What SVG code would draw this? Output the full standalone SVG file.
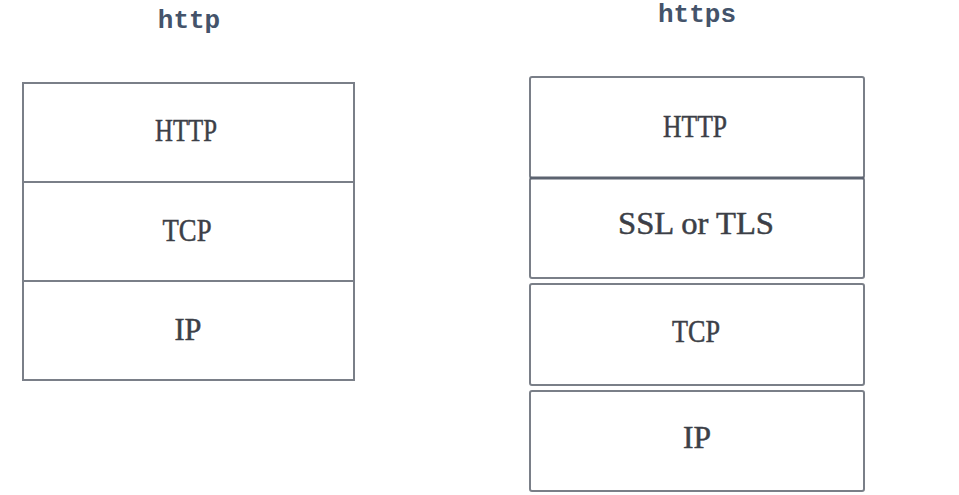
<svg xmlns="http://www.w3.org/2000/svg" width="959" height="495" viewBox="0 0 959 495">
<style>
.box{fill:#ffffff;stroke:#7a7f88;stroke-width:2}
.lbl{font-family:"Liberation Serif","DejaVu Serif",serif;font-size:31px;fill:#3c3f47;stroke:#3c3f47;stroke-width:0.5;text-anchor:middle}
.ttl{font-family:"Liberation Mono","DejaVu Sans Mono",monospace;font-size:26px;font-weight:bold;fill:#44536a;text-anchor:middle}
</style>
<rect width="959" height="495" fill="#ffffff"/>
<text class="ttl" x="189" y="28">http</text>
<text class="ttl" x="697" y="22">https</text>
<g id="http-stack">
<g id="l-http"><rect class="box" x="23" y="83" width="331" height="99"/><text class="lbl" x="186" y="141" textLength="62" lengthAdjust="spacingAndGlyphs">HTTP</text></g>
<g id="l-tcp"><rect class="box" x="23" y="182" width="331" height="99"/><text class="lbl" x="187" y="241" textLength="49" lengthAdjust="spacingAndGlyphs">TCP</text></g>
<g id="l-ip"><rect class="box" x="23" y="281" width="331" height="99"/><text class="lbl" x="188" y="340" textLength="27" lengthAdjust="spacingAndGlyphs">IP</text></g>
</g>
<g id="https-stack">
<g id="r-http"><rect class="box" x="530" y="77" width="334" height="101" rx="2"/><text class="lbl" x="695" y="137" textLength="64" lengthAdjust="spacingAndGlyphs">HTTP</text></g>
<g id="r-ssl"><rect class="box" x="530" y="178" width="334" height="100" rx="2"/><line x1="530" y1="178" x2="864" y2="178" stroke="#5c6370" stroke-width="3"/><text class="lbl" x="696" y="234" textLength="156" lengthAdjust="spacingAndGlyphs">SSL or TLS</text></g>
<g id="r-tcp"><rect class="box" x="530" y="284" width="334" height="101" rx="2"/><text class="lbl" x="696" y="342" textLength="48" lengthAdjust="spacingAndGlyphs">TCP</text></g>
<g id="r-ip"><rect class="box" x="530" y="391" width="334" height="100" rx="2"/><text class="lbl" x="697" y="448" textLength="28" lengthAdjust="spacingAndGlyphs">IP</text></g>
</g>
<g id="connectors"/>
</svg>
